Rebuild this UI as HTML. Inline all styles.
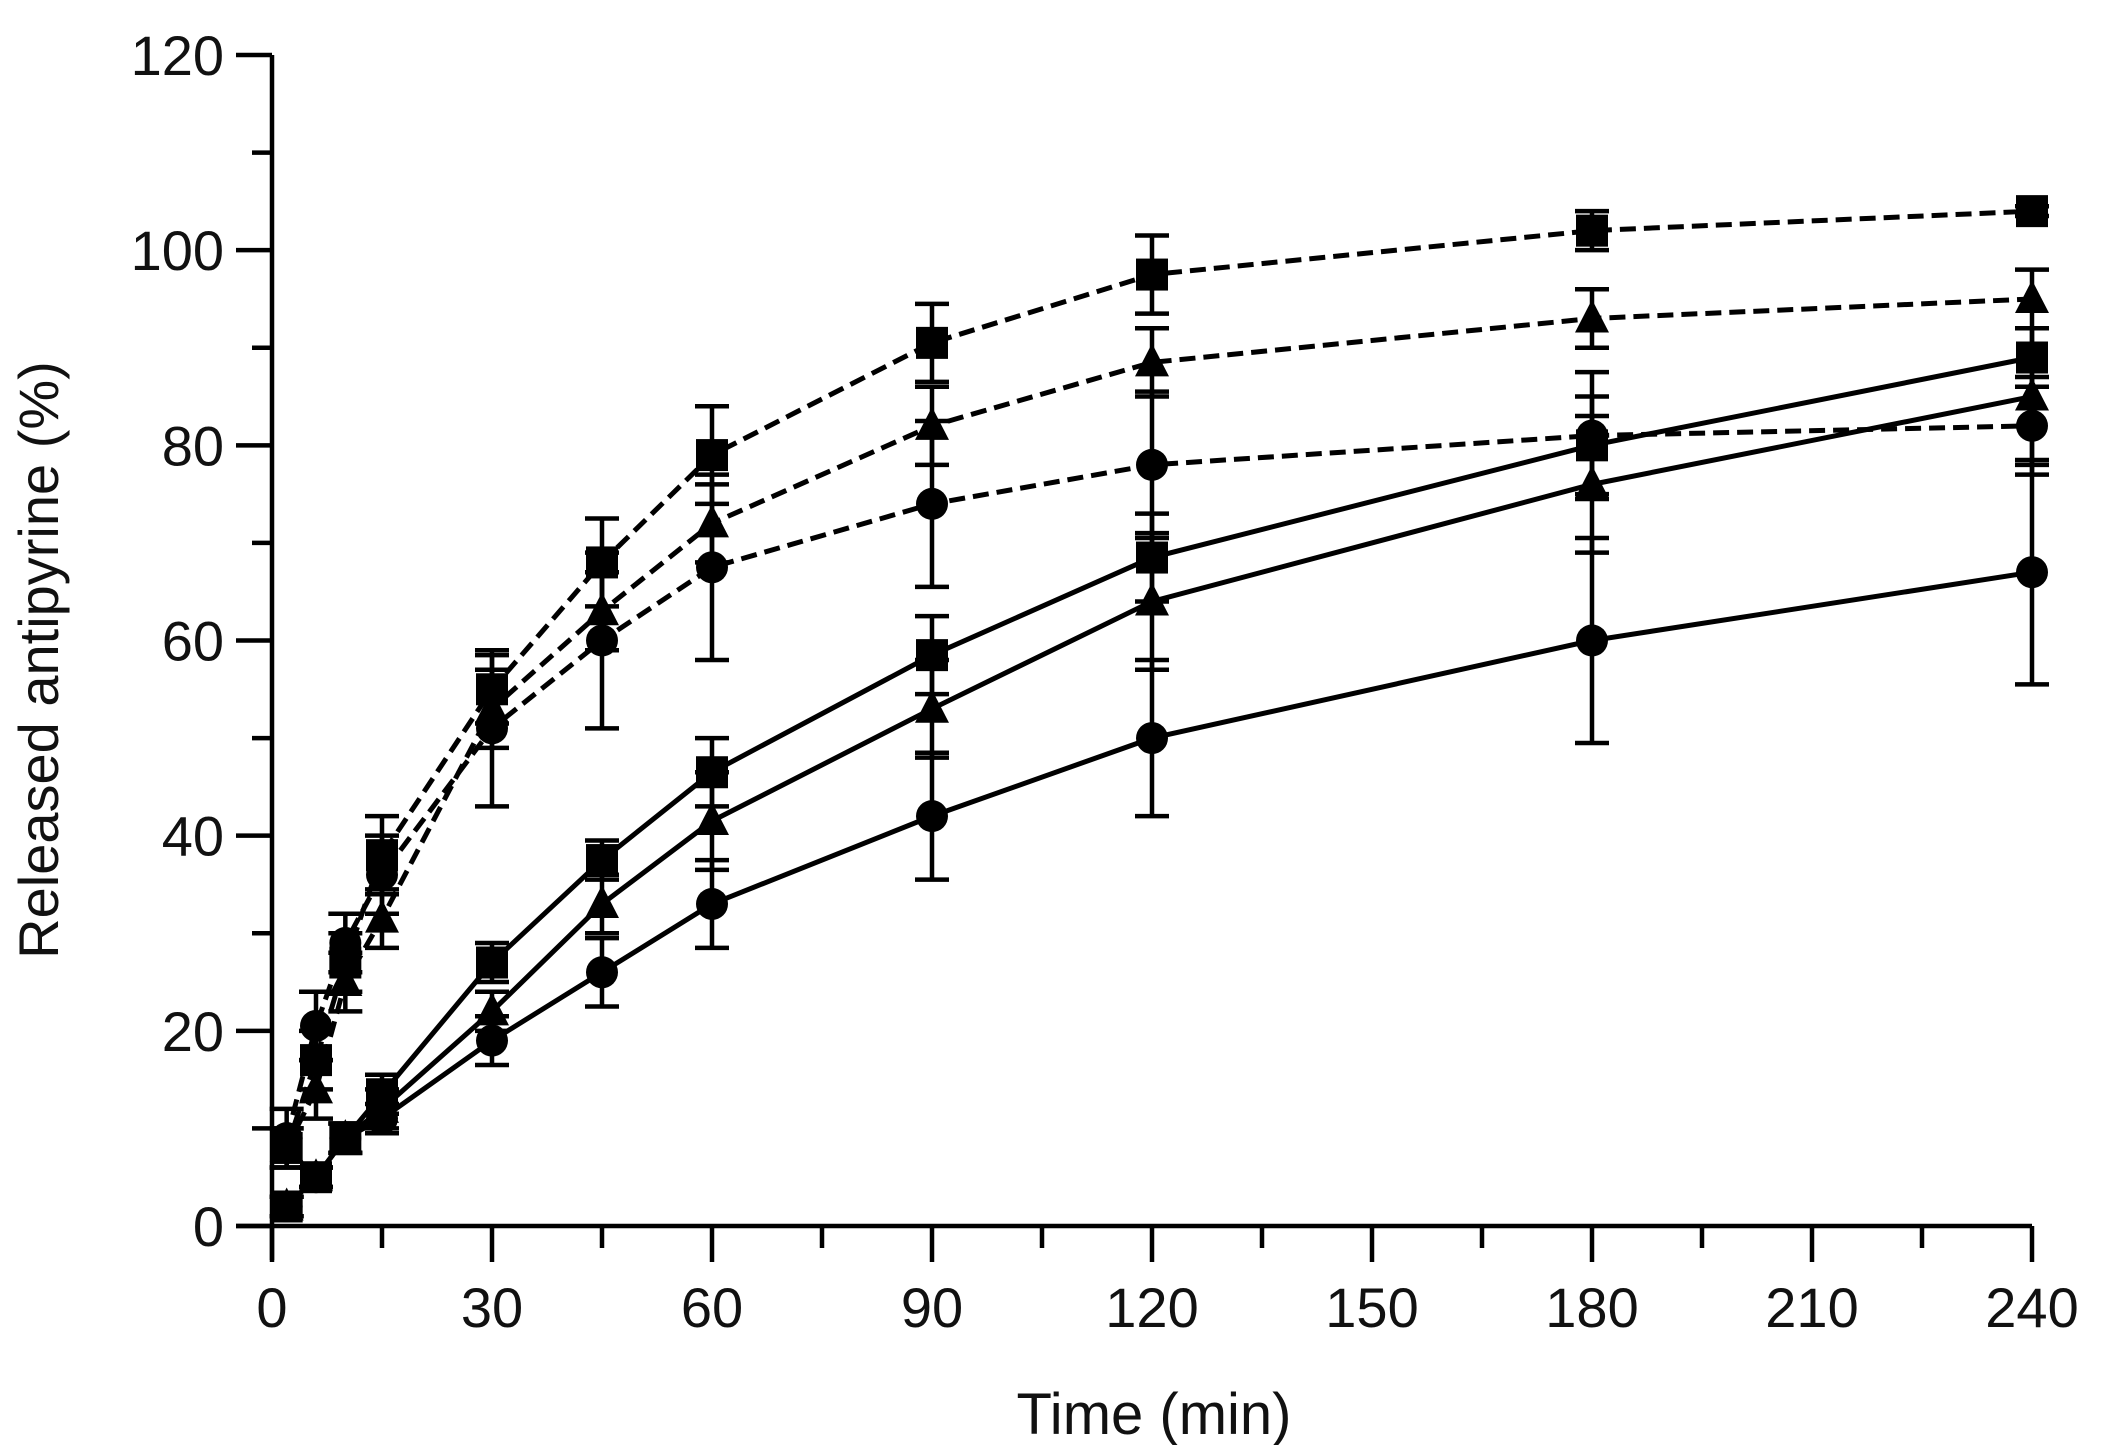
<!DOCTYPE html>
<html><head><meta charset="utf-8"><style>
html,body{margin:0;padding:0;background:#fff;}
svg{display:block;}
text{font-family:"Liberation Sans",sans-serif;fill:#111;}
</style></head><body>
<svg id="chart" width="2105" height="1445" viewBox="0 0 2105 1445">
<g id="axes"></g>
<g id="series"></g>
<text x="1154" y="1434" font-size="58" text-anchor="middle">Time  (min)</text>
<text transform="translate(58,660) rotate(-90)" font-size="56" text-anchor="middle">Released antipyrine  (%)</text>
</svg>
<script>
const times = [2, 6, 10, 15, 30, 45, 60, 90, 120, 180, 240];
const xTicks = [0, 30, 60, 90, 120, 150, 180, 210, 240];
const yTicks = [0, 20, 40, 60, 80, 100, 120];
const dashSquare = [8, 17, 27, 38, 55, 68, 79, 90.5, 97.5, 102, 104];
const dashSquareErr = [2, 3, 3, 4, 3.5, 4.5, 5, 4, 4, 2, 0.5];
const dashTriangle = [8, 14, 25, 31.5, 53, 63, 72, 82, 88.5, 93, 95];
const dashTriangleErr = [2, 3, 3, 3, 4, 4, 4, 4, 3.5, 3, 3];
const dashCircle = [9, 20.5, 29, 36, 51, 60, 67.5, 74, 78, 81, 82];
const dashCircleErr = [3, 3.5, 3, 4, 8, 9, 9.5, 8.5, 7.5, 6.5, 5];
const solidSquare = [2, 5, 9, 13.5, 27, 37.5, 46.5, 58.5, 68.5, 80, 89];
const solidSquareErr = [1, 1, 1.5, 2, 2, 2, 3.5, 4, 4.5, 5, 3];
const solidTriangle = [2, 5, 9, 12, 22, 33, 41.5, 53, 64, 76, 85];
const solidTriangleErr = [1, 1, 1.5, 2, 2, 3, 5, 5, 7, 7, 7];
const solidCircle = [2, 5, 9, 11, 19, 26, 33, 42, 50, 60, 67];
const solidCircleErr = [1, 1, 1.5, 1.5, 2.5, 3.5, 4.5, 6.5, 8, 10.5, 11.5];

const NS = "http://www.w3.org/2000/svg";
const X0 = 272, X1 = 2032, Y0 = 1226, Y1 = 55;
function xs(v){ return X0 + (v / 240) * (X1 - X0); }
function ys(v){ return Y0 - (v / 120) * (Y0 - Y1); }
function mk(tag, attrs, parent){
  const e = document.createElementNS(NS, tag);
  for (const k in attrs) e.setAttribute(k, attrs[k]);
  parent.appendChild(e);
  return e;
}
const axes = document.getElementById('axes');
const ser = document.getElementById('series');

const yAxis = mk('line', {x1: X0, y1: Y1, x2: X0, y2: Y0 + 34, stroke: '#000', 'stroke-width': 4.5}, axes);


const xAxis = mk('line', {x1: X0 - 36, y1: Y0, x2: X1, y2: Y0, stroke: '#000', 'stroke-width': 4.5}, axes);



for (let v = 0; v <= 120; v += 10) {
  const major = v % 20 === 0;
  const t = mk('line', {x1: X0 - (major ? 36 : 20), y1: ys(v), x2: X0, y2: ys(v), stroke: '#000', 'stroke-width': 4.5}, axes);
  
  
}
yTicks.forEach(v => {
  const t = mk('text', {x: 224, y: ys(v) + 20, 'font-size': 56, 'text-anchor': 'end'}, axes);
  t.textContent = v;
  
  
});
for (let v = 0; v <= 240; v += 15) {
  const major = v % 30 === 0;
  const t = mk('line', {x1: xs(v), y1: Y0, x2: xs(v), y2: Y0 + (major ? 36 : 22), stroke: '#000', 'stroke-width': 4.5}, axes);
  
  
}
xTicks.forEach(v => {
  const t = mk('text', {x: xs(v), y: 1327, 'font-size': 56, 'text-anchor': 'middle'}, axes);
  t.textContent = v;
  
  
});

function drawSeries(name, vals, errs, shape, dashed){
  const g = mk('g', {}, ser);
  
  
  const pts = times.map((t, i) => xs(t) + ',' + ys(vals[i])).join(' ');
  const pl = mk('polyline', {points: pts, fill: 'none', stroke: '#000', 'stroke-width': 5, 'stroke-dasharray': dashed ? '16 8' : 'none'}, g);
  
  
  times.forEach((t, i) => {
    const x = xs(t), y = ys(vals[i]), yt = ys(vals[i] + errs[i]), yb = ys(vals[i] - errs[i]);
    const eb = mk('path', {d: `M${x},${yt}V${yb}M${x-17},${yt}H${x+17}M${x-17},${yb}H${x+17}`, stroke: '#000', 'stroke-width': 4.5, fill: 'none'}, g);
    
    
    let m;
    if (shape === 'square') m = mk('rect', {x: x - 16, y: y - 16, width: 32, height: 32, fill: '#000'}, g);
    else if (shape === 'circle') m = mk('circle', {cx: x, cy: y, r: 16, fill: '#000'}, g);
    else m = mk('polygon', {points: `${x},${y-19} ${x+17},${y+14} ${x-17},${y+14}`, fill: '#000'}, g);
    
    
  });
}
drawSeries('dashed-square-series', dashSquare, dashSquareErr, 'square', true);
drawSeries('dashed-triangle-series', dashTriangle, dashTriangleErr, 'triangle', true);
drawSeries('dashed-circle-series', dashCircle, dashCircleErr, 'circle', true);
drawSeries('solid-square-series', solidSquare, solidSquareErr, 'square', false);
drawSeries('solid-triangle-series', solidTriangle, solidTriangleErr, 'triangle', false);
drawSeries('solid-circle-series', solidCircle, solidCircleErr, 'circle', false);
</script>
</body></html>
